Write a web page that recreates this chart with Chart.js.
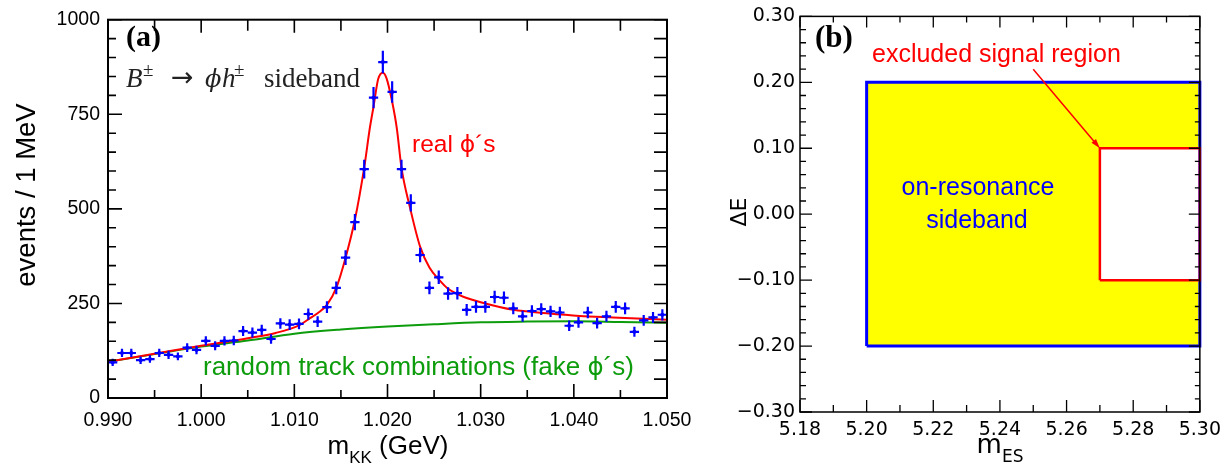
<!DOCTYPE html>
<html><head><meta charset="utf-8">
<script src="https://cdn.jsdelivr.net/npm/chart.js@4.4.1/dist/chart.umd.min.js"></script>
<style>
html,body{margin:0;padding:0;background:#fff;width:1228px;height:466px;overflow:hidden}
canvas{position:absolute;top:0}
#cA{left:0}
#cB{left:720px}
</style></head><body>
<canvas id="cA" width="720" height="466"></canvas>
<canvas id="cB" width="508" height="466"></canvas>
<script>
// ---------- panel (a) data ----------
const binCenters = [
 0.9905,0.9915,0.9925,0.9935,0.9945,0.9955,0.9965,0.9975,0.9985,0.9995,
 1.0005,1.0015,1.0025,1.0035,1.0045,1.0055,1.0065,1.0075,1.0085,1.0095,
 1.0105,1.0115,1.0125,1.0135,1.0145,1.0155,1.0165,1.0175,1.0185,1.0195,
 1.0205,1.0215,1.0225,1.0235,1.0245,1.0255,1.0265,1.0275,1.0285,1.0295,
 1.0305,1.0315,1.0325,1.0335,1.0345,1.0355,1.0365,1.0375,1.0385,1.0395,
 1.0405,1.0415,1.0425,1.0435,1.0445,1.0455,1.0465,1.0475,1.0485,1.0495];
const counts = [
 94,119,119,100,103,119,114,110,133,127,
 151,138,151,152,177,173,180,156,197,194,
 196,222,202,240,291,371,465,605,794,888,
 809,605,516,378,291,319,276,277,233,241,
 241,267,265,237,216,230,235,229,226,191,
 200,226,198,216,241,237,175,205,213,220];
const fitX = [0.990,0.995,1.000,1.005,1.008,1.0105,1.0115,1.0125,1.0135,1.0145,1.0155,1.0165,1.0175,1.0181,1.0185,1.0190,1.0195,1.0199,1.0205,1.0210,1.0215,1.0224,1.0235,1.0245,1.0256,1.0264,1.0274,1.0282,1.0292,1.0300,1.0335,1.0371,1.0406,1.0442,1.0500];
const fitY = [96,117,138,158,172,192,208,224,246,291,371,471,609,713,770,843,860,845,783,713,609,505,400,345,311,291,276,267,259,253,233,224,217,213,207];
const bkgX = [0.990,0.995,1.000,1.005,1.010,1.015,1.020,1.025,1.030,1.035,1.040,1.045,1.050];
const bkgY = [96,116,136,152,170,181,189,195,200,202,203,201,199];
const xTicksA = [0.990,1.000,1.010,1.020,1.030,1.040,1.050];
const yTicksA = [0,250,500,750,1000];

// ---------- panel (b) data ----------
const sidebandMes = [5.20, 5.30];
const sidebandDE  = [-0.20, 0.20];
const signalMes   = [5.27, 5.30];
const signalDE    = [-0.10, 0.10];
const xTicksB = [5.18,5.20,5.22,5.24,5.26,5.28,5.30];
const yTicksB = [-0.30,-0.20,-0.10,0.00,0.10,0.20,0.30];

const BLUE = '#0000ff', RED = '#ff0000', GREEN = '#0c9c0c';

function drawRuns(ctx, x, y, runs, align) {
  let w = 0;
  runs.forEach(r => { ctx.font = r.f; r.w = ctx.measureText(r.t).width; w += r.w; });
  let cx = align === 'center' ? x - w / 2 : x;
  ctx.textAlign = 'left'; ctx.textBaseline = 'alphabetic';
  runs.forEach(r => {
    if (r.ax !== undefined) cx = x + r.ax;
    ctx.font = r.f; ctx.fillText(r.t, cx, y + (r.dy || 0)); cx += r.w;
  });
}

function framePlugin(opt) {
  return {
    id: 'frame' + opt.id,
    afterDraw(chart) {
      const {ctx, chartArea: a, scales: {x, y}} = chart;
      ctx.save();
      ctx.strokeStyle = '#000';
      ctx.lineWidth = opt.frameW;
      ctx.strokeRect(a.left, a.top, a.right - a.left, a.bottom - a.top);
      ctx.lineWidth = opt.tickW;
      ctx.beginPath();
      opt.xMinor.forEach(([v, maj]) => {
        const p = x.getPixelForValue(v);
        const lb = maj ? opt.bMaj : opt.bMin, lt = maj ? opt.tMaj : opt.tMin;
        ctx.moveTo(p, a.bottom); ctx.lineTo(p, a.bottom - lb);
        ctx.moveTo(p, a.top); ctx.lineTo(p, a.top + lt);
      });
      opt.yMinor.forEach(([v, maj]) => {
        const p = y.getPixelForValue(v);
        const ll = maj ? opt.lMaj : opt.lMin, lr = maj ? opt.rMaj : opt.rMin;
        ctx.moveTo(a.left, p); ctx.lineTo(a.left + ll, p);
        ctx.moveTo(a.right, p); ctx.lineTo(a.right - lr, p);
      });
      ctx.stroke();
      ctx.restore();
    }
  };
}

function tickList(majors, sub) {
  const out = [];
  for (let i = 0; i < majors.length; i++) {
    out.push([majors[i], true]);
    if (i < majors.length - 1) {
      const step = (majors[i + 1] - majors[i]) / sub;
      for (let k = 1; k < sub; k++) out.push([majors[i] + k * step, false]);
    }
  }
  return out;
}

// ---------- chart (a) ----------
const binHalf = 0.0005;
const errorBars = {
  id: 'errorBars',
  afterDatasetsDraw(chart) {
    const {ctx, scales: {x, y}} = chart;
    ctx.save();
    ctx.strokeStyle = BLUE; ctx.lineWidth = 2.2;
    ctx.beginPath();
    binCenters.forEach((c, i) => {
      const n = counts[i], e = Math.sqrt(n);
      const px = x.getPixelForValue(c), py = y.getPixelForValue(n);
      ctx.moveTo(x.getPixelForValue(c - binHalf), py);
      ctx.lineTo(x.getPixelForValue(c + binHalf), py);
      ctx.moveTo(px, y.getPixelForValue(n - e));
      ctx.lineTo(px, y.getPixelForValue(n + e));
    });
    ctx.stroke();
    ctx.restore();
  }
};
const PHI_SANS = '"DejaVu Sans"';
const textsA = {
  id: 'textsA',
  afterDraw(chart) {
    const ctx = chart.ctx;
    ctx.save();
    ctx.fillStyle = '#000';
    drawRuns(ctx, 126, 46, [{t: '(a)', f: 'bold 30px "Liberation Serif"'}]);
    ctx.fillStyle = '#222';
    const it = 'italic 27px "Liberation Serif"', rm = '27px "Liberation Serif"', sp = '19px "Liberation Serif"';
    drawRuns(ctx, 126, 87, [
      {t: 'B', f: it, ax: 0}, {t: '±', f: sp, dy: -11, ax: 17},
      {t: '→', f: '27px "DejaVu Sans"', ax: 45, dy: -1},
      {t: 'ϕ', f: 'oblique 24px "DejaVu Serif"', ax: 79}, {t: 'h', f: it, ax: 96}, {t: '±', f: sp, dy: -11, ax: 108},
      {t: 'sideband', f: rm, ax: 138}]);
    ctx.fillStyle = RED;
    drawRuns(ctx, 412, 152, [{t: 'real ', f: '24.5px "Liberation Sans"'}, {t: 'ϕ', f: '23.5px ' + PHI_SANS},
      {t: '´s', f: '24.5px "Liberation Sans"'}]);
    ctx.fillStyle = GREEN;
    drawRuns(ctx, 203, 375, [{t: 'random track combinations (fake ', f: '26px "Liberation Sans"'},
      {t: 'ϕ', f: '24.5px ' + PHI_SANS}, {t: '´s)', f: '26px "Liberation Sans"'}]);
    ctx.fillStyle = '#000';
    drawRuns(ctx, 388, 454, [
      {t: 'm', f: '26px "Liberation Sans"'}, {t: 'KK', f: '17px "Liberation Sans"', dy: 9},
      {t: ' (GeV)', f: '26px "Liberation Sans"'}], 'center');
    ctx.translate(35, 195); ctx.rotate(-Math.PI / 2);
    drawRuns(ctx, 0, 0, [{t: 'events / 1 MeV', f: '27.5px "Liberation Sans"'}], 'center');
    ctx.restore();
  }
};

new Chart(document.getElementById('cA'), {
  type: 'line',
  data: {datasets: [
    {label: 'data', order: 1, data: binCenters.map((x, i) => ({x, y: counts[i]})), showLine: false,
     pointRadius: 2, pointBackgroundColor: BLUE, pointBorderWidth: 0},
    {label: 'real', order: 2, data: fitX.map((x, i) => ({x, y: fitY[i]})), borderColor: RED, borderWidth: 2,
     pointRadius: 0, cubicInterpolationMode: 'monotone', fill: false},
    {label: 'fake', order: 3, data: bkgX.map((x, i) => ({x, y: bkgY[i]})), borderColor: GREEN, borderWidth: 2,
     pointRadius: 0, cubicInterpolationMode: 'monotone', fill: false}
  ]},
  options: {
    responsive: false, animation: false, devicePixelRatio: 1,
    layout: {padding: {left: 0, top: 13, right: 53, bottom: 0}},
    plugins: {legend: {display: false}, tooltip: {enabled: false}},
    scales: {
      x: {type: 'linear', min: 0.990, max: 1.050,
          afterFit(s) { s.height = 68; },
          afterBuildTicks(s) { s.ticks = xTicksA.map(v => ({value: v})); },
          ticks: {callback: v => v.toFixed(3), font: {family: 'Liberation Sans', size: 19.5}, color: '#000',
                  padding: 11, maxRotation: 0, autoSkip: false},
          grid: {display: false, drawTicks: false}, border: {display: false}},
      y: {type: 'linear', min: 0, max: 1000,
          afterFit(s) { s.width = 108; },
          afterBuildTicks(s) { s.ticks = yTicksA.map(v => ({value: v})); },
          ticks: {callback: v => String(v), font: {family: 'Liberation Sans', size: 19.5}, color: '#000',
                  padding: 8, autoSkip: false},
          grid: {display: false, drawTicks: false}, border: {display: false}}
    }
  },
  plugins: [errorBars, framePlugin({id: 'A', frameW: 2, tickW: 1.6,
    xMinor: tickList(xTicksA, 2), yMinor: tickList(yTicksA, 5),
    bMaj: 14, bMin: 8, tMaj: 13, tMin: 11, lMaj: 14, lMin: 8, rMaj: 13, rMin: 13}), textsA]
});

// ---------- chart (b) ----------
const textsB = {
  id: 'textsB',
  afterDraw(chart) {
    const {ctx, scales: {x, y}} = chart;
    ctx.save();
    ctx.fillStyle = '#000';
    drawRuns(ctx, 95, 47, [{t: '(b)', f: 'bold 31px "Liberation Serif"'}]);
    ctx.fillStyle = RED;
    drawRuns(ctx, 152, 62, [{t: 'excluded signal region', f: '25px "Liberation Sans"'}]);
    ctx.fillStyle = BLUE;
    drawRuns(ctx, 258, 195, [{t: 'on-resonance', f: '25px "Liberation Sans"'}], 'center');
    drawRuns(ctx, 257, 228, [{t: 'sideband', f: '25px "Liberation Sans"'}], 'center');
    // arrow
    const x0 = x.getPixelForValue(5.25), y0 = y.getPixelForValue(0.22);
    const x1 = x.getPixelForValue(signalMes[0]), y1 = y.getPixelForValue(signalDE[1]);
    const ang = Math.atan2(y1 - y0, x1 - x0);
    ctx.strokeStyle = RED; ctx.fillStyle = RED; ctx.lineWidth = 1.5;
    ctx.beginPath(); ctx.moveTo(x0, y0); ctx.lineTo(x1 - 6 * Math.cos(ang), y1 - 6 * Math.sin(ang)); ctx.stroke();
    ctx.beginPath();
    ctx.moveTo(x1, y1);
    ctx.lineTo(x1 - 10 * Math.cos(ang - 0.3), y1 - 10 * Math.sin(ang - 0.3));
    ctx.lineTo(x1 - 10 * Math.cos(ang + 0.3), y1 - 10 * Math.sin(ang + 0.3));
    ctx.closePath(); ctx.fill();
    ctx.fillStyle = '#000';
    drawRuns(ctx, 280, 453, [
      {t: 'm', f: '26px "DejaVu Sans"'}, {t: 'ES', f: '17px "DejaVu Sans"', dy: 9}], 'center');
    ctx.translate(26, 212); ctx.rotate(-Math.PI / 2);
    drawRuns(ctx, 0, 0, [{t: 'ΔE', f: '22px "DejaVu Sans"'}], 'center');
    ctx.restore();
  }
};

const pts = (xs, ys) => xs.map((v, i) => ({x: v, y: ys[i]}));
const box = (xs, ys) => [{x: xs[0], y: ys[0]}, {x: xs[0], y: ys[1]}, {x: xs[1], y: ys[1]}, {x: xs[1], y: ys[0]}, {x: xs[0], y: ys[0]}];

new Chart(document.getElementById('cB'), {
  type: 'line',
  data: {datasets: [
    {label: 'sb top', order: 6, data: pts(sidebandMes, [sidebandDE[1], sidebandDE[1]]), fill: '+1',
     backgroundColor: '#ffff00', borderWidth: 0, pointRadius: 0},
    {label: 'sb bottom', order: 5, data: pts(sidebandMes, [sidebandDE[0], sidebandDE[0]]), fill: false,
     borderWidth: 0, pointRadius: 0},
    {label: 'sig top', order: 4, data: pts(signalMes, [signalDE[1], signalDE[1]]), fill: '+1',
     backgroundColor: '#ffffff', borderWidth: 0, pointRadius: 0},
    {label: 'sig bottom', order: 3, data: pts(signalMes, [signalDE[0], signalDE[0]]), fill: false,
     borderWidth: 0, pointRadius: 0},
    {label: 'sideband', order: 2, data: box(sidebandMes, sidebandDE), borderColor: BLUE, borderWidth: 3,
     pointRadius: 0, fill: false, clip: 6, borderJoinStyle: 'miter'},
    {label: 'signal', order: 1, data: box(signalMes, signalDE), borderColor: RED, borderWidth: 2.5,
     pointRadius: 0, fill: false, clip: 6, borderJoinStyle: 'miter'}
  ]},
  options: {
    responsive: false, animation: false, devicePixelRatio: 1,
    layout: {padding: {left: 0, top: 13, right: 28, bottom: 0}},
    plugins: {legend: {display: false}, tooltip: {enabled: false}},
    scales: {
      x: {type: 'linear', min: 5.18, max: 5.30,
          afterFit(s) { s.height = 54; },
          afterBuildTicks(s) { s.ticks = xTicksB.map(v => ({value: v})); },
          ticks: {callback: v => v.toFixed(2), font: {family: 'DejaVu Sans', size: 19}, color: '#000',
                  padding: 7, maxRotation: 0, autoSkip: false},
          grid: {display: false, drawTicks: false}, border: {display: false}},
      y: {type: 'linear', min: -0.30, max: 0.30,
          afterFit(s) { s.width = 80; },
          afterBuildTicks(s) { s.ticks = yTicksB.map(v => ({value: v})); },
          ticks: {callback: v => (v < -1e-9 ? '\u2212' : '') + Math.abs(v).toFixed(2),
                  font: {family: 'DejaVu Sans', size: 19}, color: '#000', padding: 5, autoSkip: false},
          grid: {display: false, drawTicks: false}, border: {display: false}}
    }
  },
  plugins: [framePlugin({id: 'B', frameW: 1.5, tickW: 1.3,
    xMinor: tickList(xTicksB, 2), yMinor: tickList(yTicksB, 5),
    bMaj: 12, bMin: 7, tMaj: 11, tMin: 6, lMaj: 12, lMin: 6, rMaj: 11, rMin: 5}), textsB]
});
</script>
</body></html>
